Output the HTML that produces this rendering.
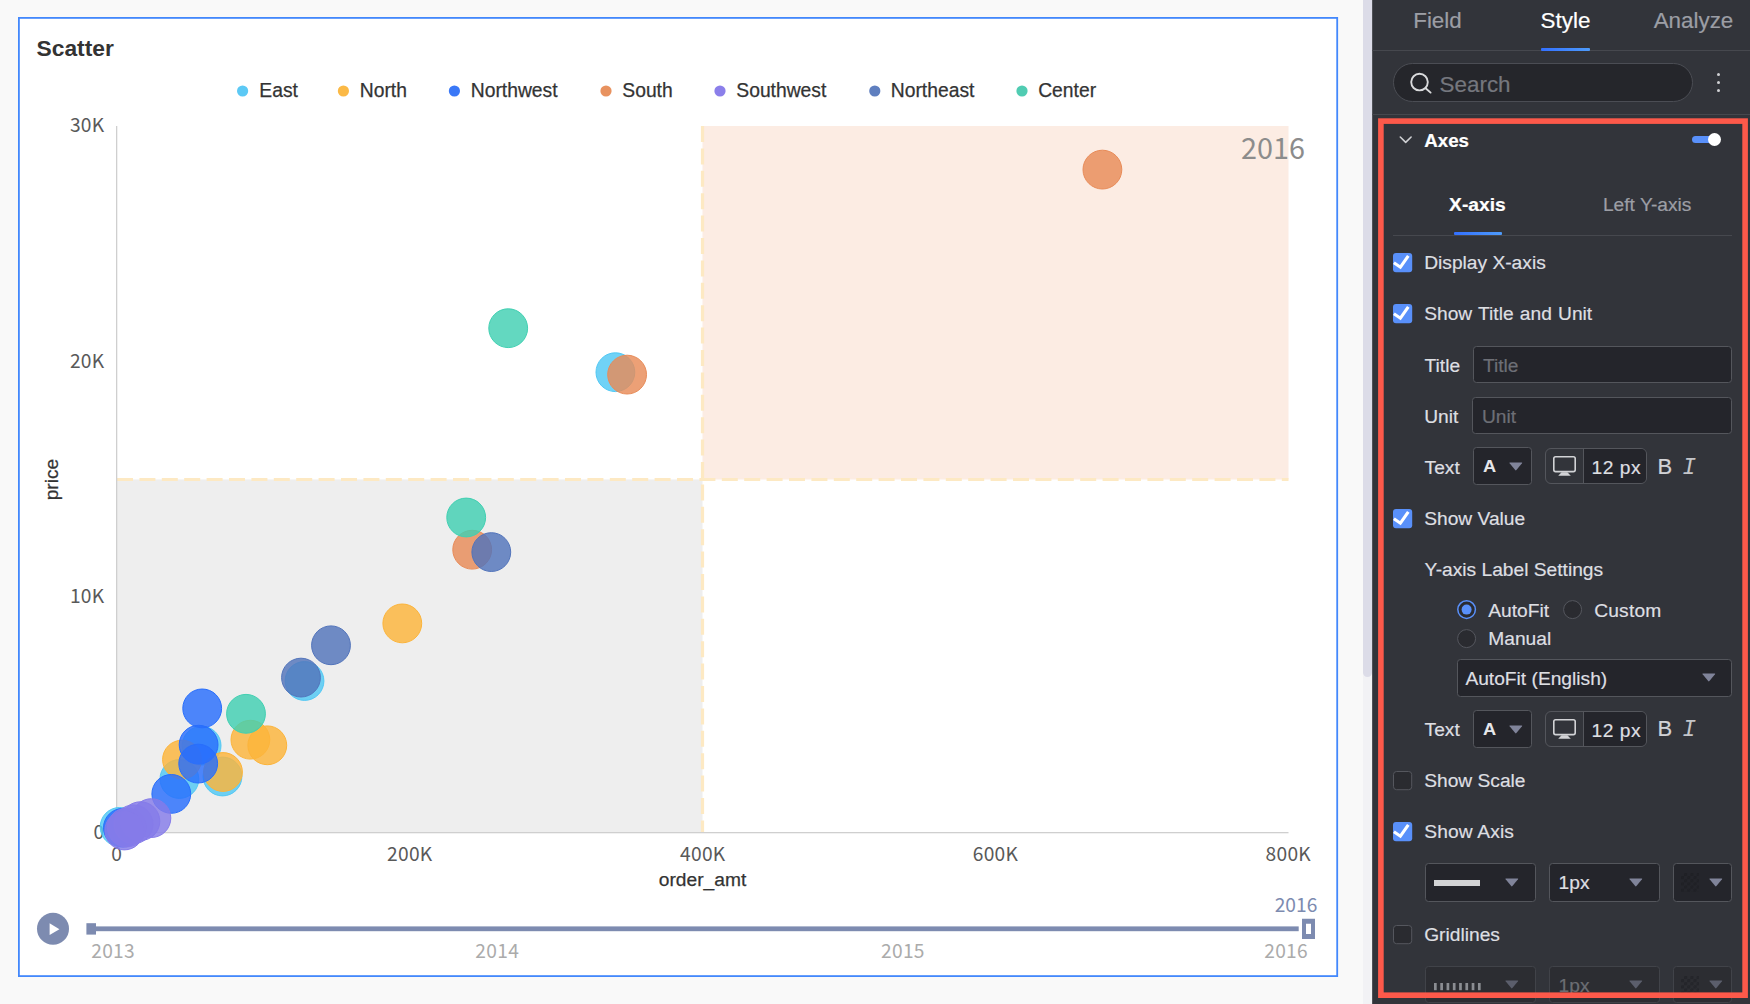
<!DOCTYPE html>
<html lang="en">
<head>
<meta charset="utf-8">
<title>Scatter</title>
<style>
html,body{margin:0;padding:0;}
body{width:1750px;height:1004px;overflow:hidden;position:relative;background:#f9f9f9;font-family:"Liberation Sans",sans-serif;}
#chartsvg{position:absolute;left:0;top:0;}
.ar{font-family:"Liberation Sans",sans-serif;}
.nt{font-family:"Noto Sans CJK SC","Liberation Sans",sans-serif;}
#scroll{position:absolute;left:1363px;top:0;width:9px;height:1004px;background:#f2f2f5;}
#scroll i{position:absolute;left:0;top:-10px;width:9px;height:687px;border-radius:5px;background:#dcdce8;display:block;}
#panel{position:absolute;left:1372px;top:0;width:378px;box-shadow:inset 1px 0 0 #505257;height:1004px;background:#32343a;overflow:hidden;color:#dedfe2;font-size:19.2px;}
#panel .abs{position:absolute;}
#panel .t{-webkit-text-stroke:0.2px currentColor;position:absolute;white-space:nowrap;line-height:22px;height:22px;}
#panel .tab{width:128px;text-align:center;font-size:22.4px;line-height:26px;height:26px;}
#panel .grad{background:linear-gradient(90deg,#3370ff,#4e9bfa);border-radius:1px;}
#panel .dot3{width:3.2px;height:3.2px;border-radius:50%;background:#d0d1d4;}
#panel svg.cb{position:absolute;left:20.8px;}
#panel svg.rd{position:absolute;}
#panel .inp{position:absolute;box-sizing:border-box;border:1px solid #54565c;border-radius:3.5px;background:#24252b;}
#panel .inp span{-webkit-text-stroke:0.2px currentColor;position:absolute;left:8.5px;top:8px;line-height:22px;color:#6d6f76;}
#panel .inp.dis{border-color:#414349;background:#2c2d32;}
#panel svg.tri{position:absolute;}
#panel .fs{position:absolute;box-sizing:border-box;width:102px;height:36px;border:1px solid #54565c;border-radius:6px;overflow:hidden;}
#panel .fs b{position:absolute;left:37px;top:0;width:64px;height:36px;background:#24252b;border-left:1px solid #54565c;}
#panel .fs svg{position:absolute;left:6.6px;top:6.6px;}
#panel .fs span{-webkit-text-stroke:0.2px currentColor;position:absolute;left:45.6px;top:8px;line-height:22px;color:#dedfe2;letter-spacing:0.5px;}
#panel .lA{position:absolute;font-weight:700;font-size:16.3px;line-height:20px;color:#e6e7ea;transform:scaleX(1.12);transform-origin:0 0;}
#panel .lB{-webkit-text-stroke:0.2px currentColor;position:absolute;font-size:22px;line-height:24px;color:#d2d3d6;}
#panel .lI{position:absolute;font-family:"Liberation Mono",monospace;font-style:italic;font-size:23px;line-height:26px;color:#c4c5c9;}
#panel .sw{position:absolute;left:6.6px;top:9.4px;width:18.7px;height:18.7px;background-color:#24252b;background-image:linear-gradient(45deg,#1f2025 25%,transparent 25%,transparent 75%,#1f2025 75%),linear-gradient(45deg,#1f2025 25%,transparent 25%,transparent 75%,#1f2025 75%);background-size:6.24px 6.24px;background-position:0 0,3.12px 3.12px;}
#panel .inp.dis .sw{background-color:#2c2d32;opacity:0.6;}
</style>
</head>
<body>
<svg id="chartsvg" width="1372" height="1004" viewBox="0 0 1372 1004">
  <!-- frame -->
  <rect x="18.9" y="17.9" width="1318.3" height="958.2" fill="#ffffff" stroke="#4388fc" stroke-width="1.8"/>
  <text class="ar" x="36.5" y="56" font-size="22.8" font-weight="700" fill="#333333">Scatter</text>

  <!-- legend -->
  <g class="ar" font-size="19.3" fill="#333333" stroke="#333333" stroke-width="0.25">
    <circle cx="242.6" cy="91" r="5.6" fill="#5cc9f5" stroke="none"/><text x="259.3" y="97">East</text>
    <circle cx="343.4" cy="91" r="5.6" fill="#fbb946" stroke="none"/><text x="359.8" y="97">North</text>
    <circle cx="454.4" cy="91" r="5.6" fill="#3a78f7" stroke="none"/><text x="470.8" y="97">Northwest</text>
    <circle cx="606" cy="91" r="5.6" fill="#e8925f" stroke="none"/><text x="622.3" y="97">South</text>
    <circle cx="720" cy="91" r="5.6" fill="#8b7fea" stroke="none"/><text x="736.3" y="97">Southwest</text>
    <circle cx="874.8" cy="91" r="5.6" fill="#5f7fbf" stroke="none"/><text x="890.8" y="97">Northeast</text>
    <circle cx="1022" cy="91" r="5.6" fill="#50ccb2" stroke="none"/><text x="1038.2" y="97">Center</text>
  </g>

  <!-- regions -->
  <rect x="117" y="479.5" width="585.5" height="353" fill="#eeeeee"/>
  <rect x="702.5" y="126" width="586" height="353.5" fill="#fcece3"/>
  <line x1="117" y1="479.5" x2="1288.5" y2="479.5" stroke="#fde9c3" stroke-width="3.2" stroke-dasharray="16 6.4"/>
  <line x1="702.5" y1="126" x2="702.5" y2="832" stroke="#fde9c3" stroke-width="3.2" stroke-dasharray="16 6.4"/>

  <!-- axes -->
  <rect x="116" y="126" width="1.3" height="707" fill="#cfcfcf"/>
  <rect x="116" y="832" width="1172.5" height="1.3" fill="#cfcfcf"/>
  <g class="nt" font-size="19.2" fill="#595959" text-anchor="end" letter-spacing="0.3">
    <text x="104.5" y="132">30K</text>
    <text x="104.5" y="368">20K</text>
    <text x="104.5" y="603.3">10K</text>
    <text x="104.5" y="838.8">0</text>
  </g>
  <g class="nt" font-size="19.2" fill="#595959" text-anchor="middle" letter-spacing="0.3">
    <text x="116.8" y="861.2">0</text>
    <text x="409.8" y="861.2">200K</text>
    <text x="702.8" y="861.2">400K</text>
    <text x="995.5" y="861.2">600K</text>
    <text x="1288.3" y="861.2">800K</text>
  </g>
  <text class="ar" x="702.5" y="886.3" font-size="19.2" fill="#333333" stroke="#333333" stroke-width="0.25" text-anchor="middle">order_amt</text>
  <text class="ar" transform="translate(58.3,479.5) rotate(-90)" font-size="19.2" fill="#333333" stroke="#333333" stroke-width="0.25" text-anchor="middle">price</text>

  <!-- year watermark -->
  <text class="nt" x="1305" y="158.5" font-size="28.8" fill="#8c8c8c" text-anchor="end">2016</text>

  <!-- bubbles -->
  <g id="bubbles" stroke-width="1">
    <g fill="#51c8f4" stroke="#51c8f4" fill-opacity="0.82">
      <circle cx="615.4" cy="372.2" r="19.4"/>
      <circle cx="304.5" cy="681" r="19.4"/>
      <circle cx="201.6" cy="745.6" r="19.4"/>
      <circle cx="222.5" cy="776.5" r="19.4"/>
      <circle cx="179.4" cy="779" r="19.4"/>
      <circle cx="119.6" cy="826.9" r="19.4"/>
    </g>
    <g fill="#fcb43a" stroke="#fcb43a" fill-opacity="0.82">
      <circle cx="402.3" cy="623.4" r="19.4"/>
      <circle cx="250.4" cy="739.7" r="19.4"/>
      <circle cx="267.3" cy="745.3" r="19.4"/>
      <circle cx="182" cy="759.6" r="19.4"/>
      <circle cx="223" cy="772" r="19.4"/>
    </g>
    <g fill="#286efc" stroke="#286efc" fill-opacity="0.82">
      <circle cx="202.2" cy="708.4" r="19.4"/>
      <circle cx="198.6" cy="744.7" r="19.4"/>
      <circle cx="198.2" cy="763.6" r="19.4"/>
      <circle cx="171.3" cy="793.9" r="19.4"/>
      <circle cx="122.9" cy="827.8" r="19.4"/>
    </g>
    <g fill="#e88b58" stroke="#e88b58" fill-opacity="0.82">
      <circle cx="1102.4" cy="169.6" r="19.4"/>
      <circle cx="627.1" cy="374.6" r="19.4"/>
      <circle cx="472.2" cy="549.7" r="19.4"/>
    </g>
    <g fill="#857be9" stroke="#857be9" fill-opacity="0.82">
      <circle cx="151.4" cy="818.1" r="19.4"/>
      <circle cx="140.4" cy="821.2" r="19.4"/>
      <circle cx="133.5" cy="824.3" r="19.4"/>
      <circle cx="126.8" cy="827.5" r="19.4"/>
      <circle cx="124.3" cy="830.5" r="19.4"/>
    </g>
    <g fill="#5274bb" stroke="#5274bb" fill-opacity="0.82">
      <circle cx="491.3" cy="552.1" r="19.4"/>
      <circle cx="331" cy="645.3" r="19.4"/>
      <circle cx="301" cy="677.6" r="19.4"/>
    </g>
    <g fill="#41d0b2" stroke="#41d0b2" fill-opacity="0.82">
      <circle cx="508.2" cy="328.2" r="19.4"/>
      <circle cx="466.2" cy="517.5" r="19.4"/>
      <circle cx="246" cy="713.8" r="19.4"/>
    </g>
  </g>

  <!-- timeline -->
  <g fill="#7d8bb0">
    <circle cx="53" cy="928.8" r="16"/>
    <rect x="96" y="926.4" width="1202.7" height="4.8"/>
    <rect x="86.4" y="923.2" width="9.6" height="11.4"/>
    <path d="M1302 918.7h13v20.4h-13z M1306 923.8v10.2h5v-10.2z" fill-rule="evenodd"/>
  </g>
  <path d="M49.6 923.3 L59.4 929.2 L49.6 935.1 Z" fill="#ffffff"/>
  <g class="nt" font-size="19.2" fill="#ababab" letter-spacing="0.3">
    <text x="91.2" y="958.4">2013</text>
    <text x="497.2" y="958.4" text-anchor="middle">2014</text>
    <text x="902.9" y="958.4" text-anchor="middle">2015</text>
    <text x="1308" y="958.4" text-anchor="end">2016</text>
  </g>
  <text class="nt" x="1296" y="911.5" font-size="19.2" fill="#7d8bb0" text-anchor="middle">2016</text>
</svg>

<div id="scroll"><i></i></div>

<div id="panel">
<div class="t tab" style="left:1.5px;top:8px;color:#9c9ea5;">Field</div>
<div class="t tab" style="left:129.5px;top:8px;color:#ffffff;">Style</div>
<div class="t tab" style="left:257.5px;top:8px;color:#9c9ea5;">Analyze</div>
<div class="abs" style="left:0;top:50px;width:378px;height:1px;background:#46484e;"></div>
<div class="abs grad" style="left:169px;top:48px;width:49px;height:3px;"></div>
<div class="abs" style="box-sizing:border-box;left:21px;top:63px;width:300px;height:39px;border:1px solid #4b4d54;border-radius:20px;background:#25262b;"></div>
<svg class="abs" style="left:36px;top:70px;" width="28" height="28" viewBox="0 0 28 28"><circle cx="11.5" cy="12.1" r="8.3" fill="none" stroke="#d9dadc" stroke-width="1.9"/><path d="M17.6 18.2 L22.6 22.6" stroke="#d9dadc" stroke-width="1.9" stroke-linecap="round"/></svg>
<div class="t" style="left:67.6px;top:72px;font-size:22.4px;line-height:26px;height:26px;color:#75777e;">Search</div>
<div class="abs dot3" style="left:345.1px;top:73.3px;"></div>
<div class="abs dot3" style="left:345.1px;top:81.2px;"></div>
<div class="abs dot3" style="left:345.1px;top:89.2px;"></div>
<div class="abs" style="left:0;top:114px;width:378px;height:1px;background:#46484e;"></div>
<svg class="abs" style="left:26px;top:133px;" width="16" height="14" viewBox="0 0 16 14"><path d="M2.3 4 L7.7 9.4 L13.1 4" fill="none" stroke="#cfd0d3" stroke-width="1.6" stroke-linecap="round" stroke-linejoin="round"/></svg>
<div class="t" style="left:52.3px;top:130px;font-weight:700;color:#ffffff;font-size:18.7px;">Axes</div>
<div class="abs" style="left:320px;top:136px;width:23px;height:7.2px;border-radius:4px;background:#5990fa;"></div>
<div class="abs" style="left:336.1px;top:133.2px;width:13px;height:13px;border-radius:50%;background:#ffffff;"></div>
<div class="t" style="left:45.4px;top:194px;width:120px;text-align:center;font-weight:700;color:#ffffff;">X-axis</div>
<div class="t" style="left:215.2px;top:194px;width:120px;text-align:center;color:#9c9ea5;">Left Y-axis</div>
<div class="abs" style="left:20.8px;top:235px;width:339.2px;height:1px;background:#46484e;"></div>
<div class="abs grad" style="left:82px;top:232px;width:48px;height:3px;"></div>
<svg class="cb" style="top:253px" width="20" height="20" viewBox="0 0 20 20"><rect x="0" y="0" width="19.2" height="19.2" rx="3" fill="#5990fa"/><path d="M0.9 9.7 L7.4 14.2 L15.3 2.9" fill="none" stroke="#ffffff" stroke-width="3.1"/></svg>
<div class="t" style="left:52.2px;top:252px;">Display X-axis</div>
<svg class="cb" style="top:304px" width="20" height="20" viewBox="0 0 20 20"><rect x="0" y="0" width="19.2" height="19.2" rx="3" fill="#5990fa"/><path d="M0.9 9.7 L7.4 14.2 L15.3 2.9" fill="none" stroke="#ffffff" stroke-width="3.1"/></svg>
<div class="t" style="left:52.2px;top:303px;word-spacing:0.9px;">Show Title and Unit</div>
<div class="t" style="left:52.6px;top:355px;">Title</div>
<div class="inp " style="left:101.4px;top:346px;width:258.4px;height:37px;"><span>Title</span></div>
<div class="t" style="left:52.2px;top:406px;">Unit</div>
<div class="inp " style="left:100.4px;top:397px;width:259.4px;height:36.5px;"><span>Unit</span></div>
<div class="t" style="left:52.6px;top:457px;">Text</div>
<div class="inp " style="left:101.3px;top:447px;width:58.5px;height:38px;"></div>
<div class="lA" style="left:111px;top:456.4px;">A</div>
<svg class="tri" style="left:136.9px;top:461.6px" width="14" height="9" viewBox="0 0 14 9"><path d="M0.9 0.4 H12.7 Q13.6 0.5 13 1.3 L7.4 8.1 Q6.8 8.7 6.2 8.1 L0.6 1.3 Q0 0.5 0.9 0.4 Z" fill="#80849a"/></svg>
<div class="fs" style="left:173px;top:448px;"><b></b><svg width="24" height="21" viewBox="0 0 24 21"><rect x="0.8" y="0.8" width="21.4" height="14.8" rx="1.8" fill="none" stroke="#d2d3d6" stroke-width="1.6"/><path d="M5.2 19.8 L8.6 16.2 H14.4 L17.8 19.8 Z" fill="#d2d3d6"/></svg><span>12 px</span></div>
<div class="lB" style="left:285.6px;top:455.4px;">B</div>
<div class="lI" style="left:310.3px;top:455px;">I</div>
<svg class="cb" style="top:509px" width="20" height="20" viewBox="0 0 20 20"><rect x="0" y="0" width="19.2" height="19.2" rx="3" fill="#5990fa"/><path d="M0.9 9.7 L7.4 14.2 L15.3 2.9" fill="none" stroke="#ffffff" stroke-width="3.1"/></svg>
<div class="t" style="left:52.2px;top:508px;">Show Value</div>
<div class="t" style="left:52.6px;top:559px;">Y-axis Label Settings</div>
<svg class="rd" style="left:85px;top:599.7px" width="20" height="20" viewBox="0 0 20 20"><circle cx="9.6" cy="9.6" r="8.8" fill="#2a2b30" stroke="#5990fa" stroke-width="1.5"/><circle cx="9.6" cy="9.6" r="5" fill="#5990fa"/></svg>
<div class="t" style="left:116.3px;top:600px;">AutoFit</div>
<svg class="rd" style="left:191px;top:599.7px" width="20" height="20" viewBox="0 0 20 20"><circle cx="9.6" cy="9.6" r="9" fill="#2a2b30" stroke="#55575e" stroke-width="1"/></svg>
<div class="t" style="left:222.2px;top:600px;letter-spacing:0.2px;">Custom</div>
<svg class="rd" style="left:85px;top:628.8px" width="20" height="20" viewBox="0 0 20 20"><circle cx="9.6" cy="9.6" r="9" fill="#2a2b30" stroke="#55575e" stroke-width="1"/></svg>
<div class="t" style="left:116.3px;top:628px;">Manual</div>
<div class="inp " style="left:85.4px;top:659px;width:274.4px;height:37.5px;"></div>
<div class="t" style="left:93.4px;top:668px;">AutoFit (English)</div>
<svg class="tri" style="left:329.8px;top:673.2px" width="14" height="9" viewBox="0 0 14 9"><path d="M0.9 0.4 H12.7 Q13.6 0.5 13 1.3 L7.4 8.1 Q6.8 8.7 6.2 8.1 L0.6 1.3 Q0 0.5 0.9 0.4 Z" fill="#80849a"/></svg>
<div class="t" style="left:52.6px;top:719px;">Text</div>
<div class="inp " style="left:101.3px;top:710px;width:58.5px;height:38px;"></div>
<div class="lA" style="left:111px;top:719.4px;">A</div>
<svg class="tri" style="left:136.9px;top:724.6px" width="14" height="9" viewBox="0 0 14 9"><path d="M0.9 0.4 H12.7 Q13.6 0.5 13 1.3 L7.4 8.1 Q6.8 8.7 6.2 8.1 L0.6 1.3 Q0 0.5 0.9 0.4 Z" fill="#80849a"/></svg>
<div class="fs" style="left:173px;top:711px;"><b></b><svg width="24" height="21" viewBox="0 0 24 21"><rect x="0.8" y="0.8" width="21.4" height="14.8" rx="1.8" fill="none" stroke="#d2d3d6" stroke-width="1.6"/><path d="M5.2 19.8 L8.6 16.2 H14.4 L17.8 19.8 Z" fill="#d2d3d6"/></svg><span>12 px</span></div>
<div class="lB" style="left:285.6px;top:717.4px;">B</div>
<div class="lI" style="left:310.3px;top:717px;">I</div>
<svg class="cb" style="top:771px" width="20" height="20" viewBox="0 0 20 20"><rect x="0.5" y="0.5" width="18.2" height="18.2" rx="3" fill="#2a2b30" stroke="#55575e" stroke-width="1"/></svg>
<div class="t" style="left:52.2px;top:770px;">Show Scale</div>
<svg class="cb" style="top:822px" width="20" height="20" viewBox="0 0 20 20"><rect x="0" y="0" width="19.2" height="19.2" rx="3" fill="#5990fa"/><path d="M0.9 9.7 L7.4 14.2 L15.3 2.9" fill="none" stroke="#ffffff" stroke-width="3.1"/></svg>
<div class="t" style="left:52.2px;top:821px;letter-spacing:0.15px;">Show Axis</div>
<div class="inp " style="left:53.2px;top:863px;width:110.6px;height:38.5px;"></div>
<div class="abs" style="left:61.9px;top:880px;width:46.1px;height:6px;background:#d2d3d5;"></div>
<svg class="tri" style="left:132.7px;top:878px" width="14" height="9" viewBox="0 0 14 9"><path d="M0.9 0.4 H12.7 Q13.6 0.5 13 1.3 L7.4 8.1 Q6.8 8.7 6.2 8.1 L0.6 1.3 Q0 0.5 0.9 0.4 Z" fill="#80849a"/></svg>
<div class="inp " style="left:177.1px;top:863px;width:110.6px;height:38.5px;"></div>
<div class="t" style="left:186.6px;top:872px;">1px</div>
<svg class="tri" style="left:257px;top:878px" width="14" height="9" viewBox="0 0 14 9"><path d="M0.9 0.4 H12.7 Q13.6 0.5 13 1.3 L7.4 8.1 Q6.8 8.7 6.2 8.1 L0.6 1.3 Q0 0.5 0.9 0.4 Z" fill="#80849a"/></svg>
<div class="inp " style="left:301px;top:863px;width:58.8px;height:38.5px;"><i class="sw"></i></div>
<svg class="tri" style="left:336.8px;top:878px" width="14" height="9" viewBox="0 0 14 9"><path d="M0.9 0.4 H12.7 Q13.6 0.5 13 1.3 L7.4 8.1 Q6.8 8.7 6.2 8.1 L0.6 1.3 Q0 0.5 0.9 0.4 Z" fill="#80849a"/></svg>
<svg class="cb" style="top:925px" width="20" height="20" viewBox="0 0 20 20"><rect x="0.5" y="0.5" width="18.2" height="18.2" rx="3" fill="#2a2b30" stroke="#55575e" stroke-width="1"/></svg>
<div class="t" style="left:52.2px;top:924px;">Gridlines</div>
<div class="inp dis" style="left:53.2px;top:966px;width:110.6px;height:36.5px;"></div>
<svg class="abs" style="left:61.7px;top:982.6px;" width="50" height="8"><rect x="0.0" y="0" width="2.7" height="7.2" fill="#8b8d92"/><rect x="6.28" y="0" width="2.7" height="7.2" fill="#8b8d92"/><rect x="12.56" y="0" width="2.7" height="7.2" fill="#8b8d92"/><rect x="18.84" y="0" width="2.7" height="7.2" fill="#8b8d92"/><rect x="25.12" y="0" width="2.7" height="7.2" fill="#8b8d92"/><rect x="31.4" y="0" width="2.7" height="7.2" fill="#8b8d92"/><rect x="37.68" y="0" width="2.7" height="7.2" fill="#8b8d92"/><rect x="43.96" y="0" width="2.7" height="7.2" fill="#8b8d92"/></svg>
<svg class="tri" style="left:132.7px;top:980px" width="14" height="9" viewBox="0 0 14 9"><path d="M0.9 0.4 H12.7 Q13.6 0.5 13 1.3 L7.4 8.1 Q6.8 8.7 6.2 8.1 L0.6 1.3 Q0 0.5 0.9 0.4 Z" fill="#5b5e6c"/></svg>
<div class="inp dis" style="left:177.1px;top:966px;width:110.6px;height:36.5px;"></div>
<div class="t" style="left:186.6px;top:975px;color:#6b6d73;">1px</div>
<svg class="tri" style="left:257px;top:980px" width="14" height="9" viewBox="0 0 14 9"><path d="M0.9 0.4 H12.7 Q13.6 0.5 13 1.3 L7.4 8.1 Q6.8 8.7 6.2 8.1 L0.6 1.3 Q0 0.5 0.9 0.4 Z" fill="#5b5e6c"/></svg>
<div class="inp dis" style="left:301px;top:966px;width:58.8px;height:36.5px;"><i class="sw"></i></div>
<svg class="tri" style="left:336.8px;top:980px" width="14" height="9" viewBox="0 0 14 9"><path d="M0.9 0.4 H12.7 Q13.6 0.5 13 1.3 L7.4 8.1 Q6.8 8.7 6.2 8.1 L0.6 1.3 Q0 0.5 0.9 0.4 Z" fill="#5b5e6c"/></svg>
<svg class="abs" style="left:0;top:0;" width="378" height="1004"><rect x="8.9" y="121.1" width="364.2" height="874.1" fill="none" stroke="#fd594a" stroke-width="5.6"/></svg>
</div>
</body>
</html>
